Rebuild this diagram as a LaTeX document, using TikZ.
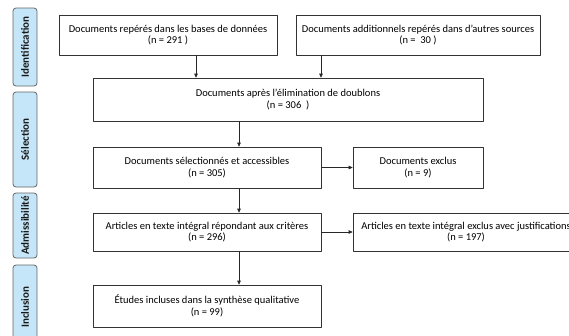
\documentclass[tikz,border=0pt]{standalone}
\usepackage{fontspec}
\setmainfont{Carlito}
\usetikzlibrary{arrows.meta}
\definecolor{phase}{HTML}{C5E5F9}
\begin{document}
\begin{tikzpicture}[x=1pt,y=-1pt,>={Triangle[length=4pt,width=3.5pt]},line join=round]
	\tikzset{box/.style={draw=black!80,line width=.6pt,align=center,font=\fontsize{10.5}{11.5}\selectfont,inner sep=0pt},
		phasebox/.style={draw=black!60,fill=phase,line width=.8pt,rounded corners=3pt,minimum width=24pt,inner sep=0pt},
		phasetext/.style={rotate=90,font=\fontsize{11}{12}\selectfont\bfseries,text=black!90},
		arr/.style={->,draw=black!85,line width=.6pt}}
	\useasboundingbox (0,0) rectangle (569,335);
	\clip (0,0) rectangle (569,335);
	% phases
	\node[phasebox,minimum height=78pt] (ident) at (25,47) {};
	\node[phasetext] at (ident) {Identification};
	\node[phasebox,minimum height=95pt] (selec) at (25,139.5) {};
	\node[phasetext] at (selec) {Sélection};
	\node[phasebox,minimum height=65pt] (admis) at (25,225.5) {};
	\node[phasetext] at (admis) {Admissibilité};
	\node[phasebox,minimum height=84pt] (inclu) at (25,307) {};
	\node[phasetext] at (inclu) {Inclusion};
	% boxes
	\node[box,minimum width=218pt,minimum height=40pt] (bases) at (168,35) {Documents repérés dans les bases de données\\(n = 291 )};
	\node[box,minimum width=244pt,minimum height=40pt] (autres) at (418,35) {Documents additionnels repérés dans d’autres sources\\(n =~~30 )};
	\node[box,minimum width=390pt,minimum height=43pt] (doublons) at (288,99.5) {Documents après l’élimination de doublons\\(n = 306~~)};
	\node[box,minimum width=228pt,minimum height=41pt] (select) at (207,167.5) {Documents sélectionnés et accessibles\\(n = 305)};
	\node[box,minimum width=130pt,minimum height=41pt] (exclus) at (418,167.5) {Documents exclus\\(n = 9)};
	\node[box,minimum width=228pt,minimum height=38pt] (texte) at (207,232) {Articles en texte intégral répondant aux critères\\(n = 296)};
	\node[box,minimum width=226pt,minimum height=38pt] (justif) at (466,232) {Articles en texte intégral exclus avec justifications\\(n = 197)};
	\node[box,minimum width=228pt,minimum height=42pt] (etudes) at (207,306) {Études incluses dans la synthèse qualitative\\(n = 99)};
	% arrows
	\coordinate (c1) at (196,0);
	\coordinate (c2) at (321,0);
	\coordinate (spine) at (239,0);
	\draw[arr] (bases.south -| c1) -- (doublons.north -| c1);
	\draw[arr] (autres.south -| c2) -- (doublons.north -| c2);
	\draw[arr] (doublons.south -| spine) -- (select.north -| spine);
	\draw[arr] (select) -- (exclus);
	\draw[arr] (select.south -| spine) -- (texte.north -| spine);
	\draw[arr] (texte.east) -- (justif.west);
	\draw[arr] (texte.south -| spine) -- (etudes.north -| spine);
\end{tikzpicture}
\end{document}
